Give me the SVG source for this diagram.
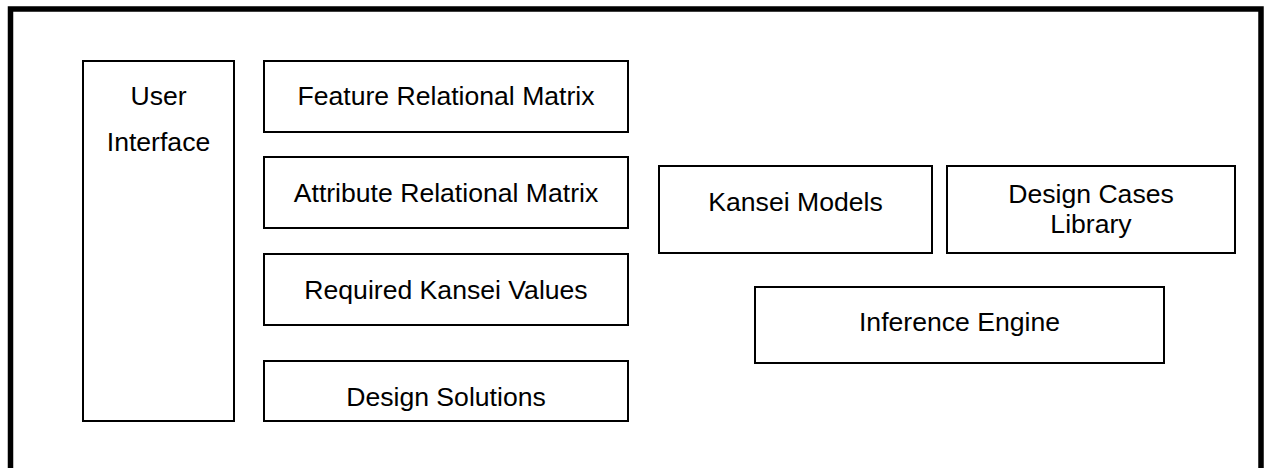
<svg xmlns="http://www.w3.org/2000/svg" width="1264" height="468" viewBox="0 0 1264 468">
<style>
.box{fill:#fff;stroke:#000;stroke-width:2}
.t{font-family:"Liberation Sans",Arial,sans-serif;font-size:26.6px;fill:#000;text-anchor:middle}
</style>
<rect x="0" y="0" width="1264" height="468" fill="#fff"/>
<rect x="10.5" y="9" width="1250.5" height="480" fill="none" stroke="#000" stroke-width="5.5"/>
<g id="user-interface"><rect class="box" x="83" y="61" width="151" height="360"/><text class="t" x="158.5" y="105">User</text><text class="t" x="158.5" y="151">Interface</text></g>
<g id="feature-relational-matrix"><rect class="box" x="264" y="61" width="364" height="71"/><text class="t" x="446" y="105">Feature Relational Matrix</text></g>
<g id="attribute-relational-matrix"><rect class="box" x="264" y="157" width="364" height="71"/><text class="t" x="446" y="202">Attribute Relational Matrix</text></g>
<g id="required-kansei-values"><rect class="box" x="264" y="254" width="364" height="71"/><text class="t" x="446" y="299">Required Kansei Values</text></g>
<g id="design-solutions"><rect class="box" x="264" y="361" width="364" height="60"/><text class="t" x="446" y="405.5">Design Solutions</text></g>
<g id="kansei-models"><rect class="box" x="659" y="166" width="273" height="87"/><text class="t" x="795.5" y="211">Kansei Models</text></g>
<g id="design-cases-library"><rect class="box" x="947" y="166" width="288" height="87"/><text class="t" x="1091" y="203">Design Cases</text><text class="t" x="1091" y="233">Library</text></g>
<g id="inference-engine"><rect class="box" x="755" y="287" width="409" height="76"/><text class="t" x="959.5" y="331">Inference Engine</text></g>
<g id="connectors"></g>
</svg>
